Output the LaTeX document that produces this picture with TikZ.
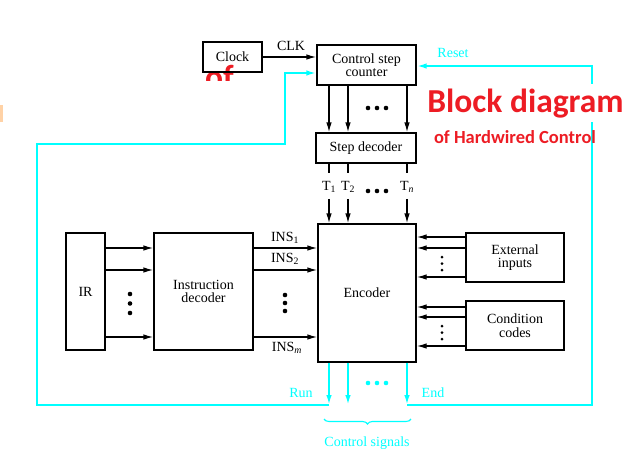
\documentclass[tikz,border=0pt]{standalone}
\usepackage{fontspec}
\setmainfont{Liberation Serif}
\newfontfamily\redfont{Carlito}
\usetikzlibrary{arrows.meta,decorations.pathreplacing,positioning}
\definecolor{fbcyan}{RGB}{0,255,255}
\definecolor{titlered}{RGB}{237,28,36}
\tikzset{
  blk/.style={
    draw,
    line width=1.3pt,
    inner sep=0pt,
    align=center,
    font=\fontsize{14}{13.5}\selectfont
  },
  arr/.style={
    line width=1.3pt,
    -{Latex[length=10pt,width=5.5pt]}
  },
  fb/.style={
    line width=1.9pt,
    fbcyan,
    -{Latex[length=10pt,width=5.5pt]}
  },
  lbl/.style={
    font=\fontsize{14}{13.5}\selectfont,
    inner sep=1pt
  },
  cylbl/.style={
    lbl,
    text=fbcyan
  },
  title/.style={
    text=titlered,
    font=\redfont\bfseries\fontsize{33.5}{33.5}\selectfont,
    inner sep=0pt,
    anchor=base
  }
}

\begin{document}
\begin{tikzpicture}[x=1pt,y=-1pt]
    \useasboundingbox (0,0) rectangle (635,469);
    \fill[orange!35] (0,105) rectangle (3,122);
    \begin{scope}
    \clip (195,60) rectangle (245,80);
    \node[title] (ofclk) at (219.5,88) {of};
    \end{scope}
    % boxes
    \node[blk, minimum width=59, minimum height=30] (clock) at (232.5,57) {Clock};
    \node[blk, minimum width=99, minimum height=40] (counter) at (366.5,65) {Control step\\counter};
    \node[blk, minimum width=100, minimum height=30] (stepdec) at (366,148) {Step decoder};
    \node[blk, minimum width=98, minimum height=138] (encoder) at (367,293) {Encoder};
    \node[blk, minimum width=39, minimum height=117] (ir) at (85.5,291.5) {IR};
    \node[blk, minimum width=99, minimum height=117] (instdec) at (203.5,291.5) {Instruction\\decoder};
    \node[blk, minimum width=98, minimum height=49] (extin) at (515,257.5) {External\\inputs};
    \node[blk, minimum width=98, minimum height=49] (condc) at (515,325.5) {Condition\\codes};
    % clock and counter
    \draw[arr] (clock.east) -- (counter.west |- clock.east);
    \node[lbl] (clk) at (291,46) {CLK};
    \foreach \x in {329,348,407}{
    \draw[arr] (counter.south -| \x,0) -- (stepdec.north -| \x,0);}
    % step signals
    \node[lbl] (t1) at (329,187) {T\textsubscript{1}};
    \node[lbl] (t2) at (348,187) {T\textsubscript{2}};
    \node[lbl] (tn) at (407,187) {T\textsubscript{\textit{n}}};
    \foreach \t in {t1,t2,tn}{
    \draw[line width=1.3pt] (stepdec.south -| \t) -- ++(0,9);
    \draw[arr] (\t.south) ++(0,5) -- (encoder.north -| \t);}
    % instruction path
    \foreach \y in {248,270,337}{
    \draw[arr] (ir.east |- 0,\y) -- (instdec.west |- 0,\y);
    \draw[arr] (instdec.east |- 0,\y) -- (encoder.west |- 0,\y);}
    \node[lbl] (ins1) at (285,238) {INS\textsubscript{1}};
    \node[lbl] (ins2) at (285,259) {INS\textsubscript{2}};
    \node[lbl] (insm) at (287,348) {INS\textsubscript{\textit{m}}};
    % external inputs and condition codes
    \foreach \y in {237,248,277}{
    \draw[arr] (extin.west |- 0,\y) -- (encoder.east |- 0,\y);}
    \foreach \y in {307,317,346}{
    \draw[arr] (condc.west |- 0,\y) -- (encoder.east |- 0,\y);}
    % dots
    \foreach \i in {0,1,2}{
    \fill (368+9*\i,108) circle (2.3);
    \fill (368+9*\i,191) circle (2.3);
    \fill[fbcyan] (368+9*\i,383) circle (2.3);
    \fill (130,294+9.5*\i) circle (2.3);
    \fill (285,295+8*\i) circle (2.3);
    \fill (442,257+6.5*\i) circle (1.5);
    \fill (442,326+6.5*\i) circle (1.5);}
    % control signals and feedback
    \coordinate (run) at (329,405);
    \coordinate (mid) at (348,405);
    \coordinate (end) at (407,405);
    \draw[fb] (encoder.south -| run) -- (run);
    \draw[fb] (encoder.south -| mid) -- (mid);
    \draw[fb] (encoder.south -| end) -- (end);
    \draw[fb] (run) -| (37,144) -| (285,73) -- (counter.west |- 0,73);
    \draw[fb] (end) -| (592,66) -- (counter.east |- 0,66);
    \node[cylbl] (runlbl) at (301,393) {Run};
    \node[cylbl] (endlbl) at (433,393) {End};
    \node[cylbl] (reset) at (453,53) {Reset};
    \draw[fbcyan, line width=1.1pt, decorate, decoration={brace, mirror, amplitude=5pt}] (324,419) -- (411,419);
    \node[cylbl] (ctrlsig) at (367,443) {Control signals};
    % title
    \node[title, fill=white, inner sep=4pt] (blkdiag) at (525.5,112) {Block diagram};
    \node[title, font=\redfont\bfseries\fontsize{18.5}{18.5}\selectfont] (hwctrl) at (515,143) {of Hardwired Control};
\end{tikzpicture}
\end{document}
